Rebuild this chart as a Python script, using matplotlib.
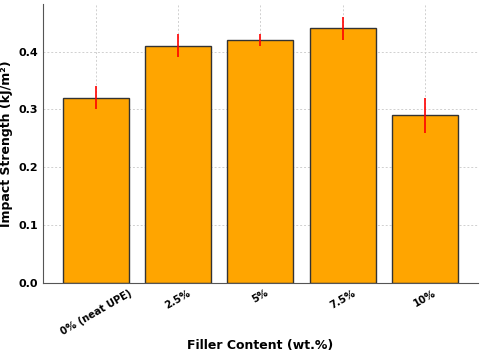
import matplotlib
matplotlib.use("Agg")
import matplotlib.pyplot as plt

categories = ["0% (neat UPE)", "2.5%", "5%", "7.5%", "10%"]
impact = [0.32, 0.41, 0.42, 0.44, 0.29]
errors = [0.02, 0.02, 0.01, 0.02, 0.03]

fig, ax = plt.subplots(figsize=(4.8, 3.55), dpi=100)
ax.bar(categories, impact, yerr=errors, color="orange", edgecolor="#333333",
       linewidth=1.0, ecolor="red", error_kw=dict(elinewidth=1.2, capsize=0), zorder=2)
ax.grid(True, linestyle="--", dashes=(2, 2), color="#d0d0d0", linewidth=0.7, zorder=0)
ax.set_axisbelow(True)
ax.set_ylabel("Impact Strength (kJ/m²)", fontsize=9, fontweight="bold")
ax.set_xlabel("Filler Content (wt.%)", fontsize=9, fontweight="bold")
ax.xaxis.set_label_coords(0.5, -0.2)
ax.spines["top"].set_visible(False)
ax.spines["right"].set_visible(False)
for s in ["left", "bottom"]:
    ax.spines[s].set_color("#555555")
ax.tick_params(length=0)
ax.tick_params(axis="x", labelsize=7.2)
ax.tick_params(axis="y", labelsize=8)
plt.setp(ax.get_xticklabels(), rotation=30, ha="center", fontweight="bold")
plt.setp(ax.get_yticklabels(), fontweight="bold")
fig.subplots_adjust(left=0.09, right=0.995, top=0.99, bottom=0.203)
fig.savefig("out.png")
